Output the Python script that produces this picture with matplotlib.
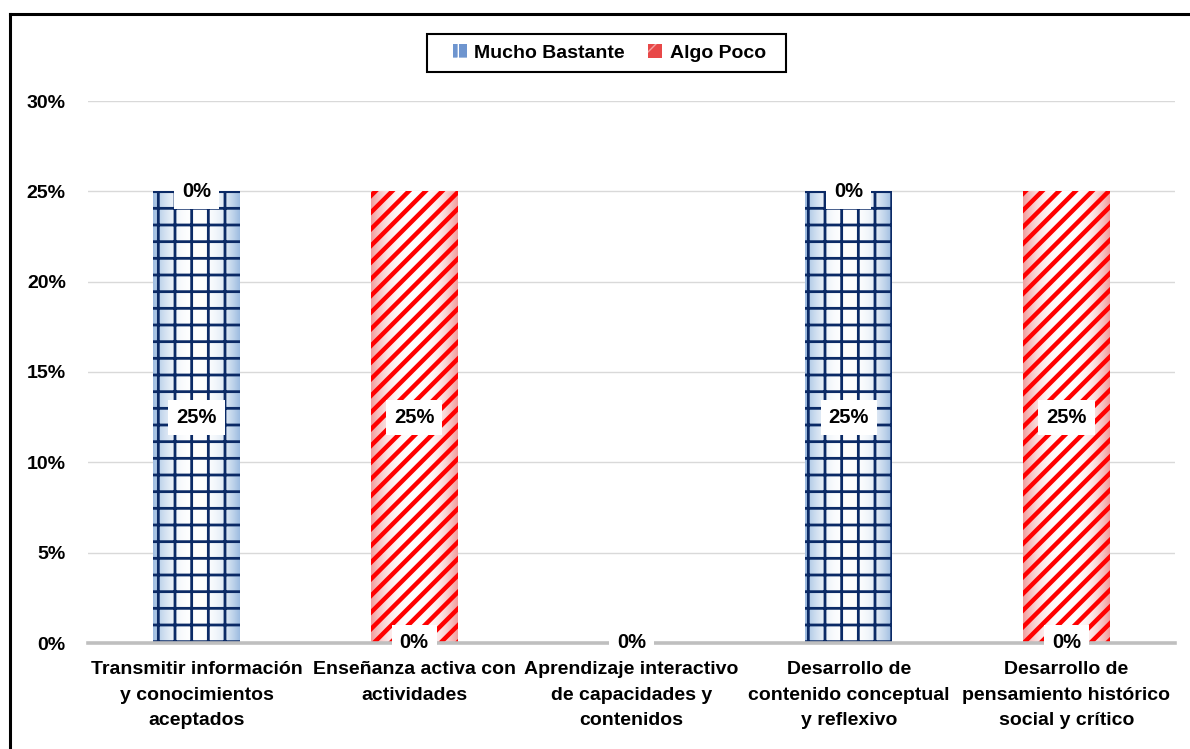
import numpy as np
import matplotlib
matplotlib.use('Agg')
import matplotlib.pyplot as plt
from matplotlib.patches import Rectangle
from matplotlib.lines import Line2D

plt.rcParams['font.family'] = ['Liberation Sans', 'DejaVu Sans']
plt.rcParams['font.weight'] = 'bold'

categories = ['Transmitir información\ny conocimientos\naceptados',
              'Enseñanza activa con\nactividades',
              'Aprendizaje interactivo\nde capacidades y\ncontenidos',
              'Desarrollo de\ncontenido conceptual\ny reflexivo',
              'Desarrollo de\npensamiento histórico\nsocial y crítico']
mucho_bastante = [25, 0, 0, 25, 0]
algo_poco = [0, 25, 0, 0, 25]
yticks = [0, 5, 10, 15, 20, 25, 30]

BLUE_EDGE = np.array([0.62, 0.74, 0.88])
RED_EDGE = np.array([0.95, 0.62, 0.62])
NAVY = '#0B2A66'
RED = '#FF0000'
W = 0.40


def shaded_bar(ax, x, bottom, height, edge_rgb, hatch, hatch_color, hatch_lw):
    if height <= 0:
        return
    t = np.linspace(-1, 1, 80)
    w = np.abs(t) ** 2.5
    img = (1 - w)[None, :, None] * np.ones(3) + w[None, :, None] * edge_rgb
    ax.imshow(img, extent=[x - W / 2, x + W / 2, bottom, bottom + height],
              aspect='auto', interpolation='bilinear', zorder=2)
    with plt.rc_context({'hatch.linewidth': hatch_lw}):
        bars = ax.bar(x, height, W, bottom=bottom, color='none',
                      edgecolor=hatch_color, linewidth=0, hatch=hatch, zorder=3)
    for b in bars:
        if hasattr(b, 'set_hatch_linewidth'):
            b.set_hatch_linewidth(hatch_lw)


fig = plt.figure(figsize=(11.9, 7.49), dpi=100)
ax = fig.add_axes([88 / 1190, 106 / 749, 1087 / 1190, 542 / 749])

x = np.arange(len(categories))
for i in x:
    shaded_bar(ax, i, 0, mucho_bastante[i], BLUE_EDGE, '+', NAVY, 2.0)
    shaded_bar(ax, i, mucho_bastante[i], algo_poco[i], RED_EDGE, '//', RED, 3.2)

box = dict(boxstyle='square,pad=0.4', facecolor='white', edgecolor='none')
for i in x:
    ax.text(i, mucho_bastante[i] / 2, f'{mucho_bastante[i]}%', ha='center',
            va='center', fontsize=14.5, fontweight='bold', bbox=box, zorder=6)
    ax.text(i, mucho_bastante[i] + algo_poco[i] / 2, f'{algo_poco[i]}%',
            ha='center', va='center', fontsize=14.5, fontweight='bold',
            bbox=box, zorder=6)

ax.set_xlim(-0.5, len(categories) - 0.5)
ax.set_ylim(0, 30)
ax.set_yticks(yticks)
ax.set_yticklabels([f'{v}%' for v in yticks], fontsize=14, fontweight='bold')
ax.set_xticks(x)
ax.set_xticklabels(categories, fontsize=14, fontweight='bold', linespacing=1.65)
ax.tick_params(axis='y', length=0, pad=16)
ax.tick_params(axis='x', length=0, pad=13)
ax.yaxis.grid(True, color='#D9D9D9', linewidth=1)
ax.set_axisbelow(True)
ax.axhline(0, color='#BFBFBF', linewidth=2.6, zorder=4, clip_on=False)
for s in ax.spines.values():
    s.set_visible(False)

# legend with its own frame box
lx, ly, lw, lh = 427 / 1190, 1 - 72 / 749, 359 / 1190, 38 / 749
fig.add_artist(Rectangle((lx, ly), lw, lh, transform=fig.transFigure,
                         fill=False, edgecolor='black', linewidth=1.5))
handles = [Rectangle((0, 0), 1, 1, facecolor='#6E95CF', edgecolor='white',
                     linewidth=0, hatch='+'),
           Rectangle((0, 0), 1, 1, facecolor='#E84848', edgecolor='#F4A0A0',
                     linewidth=0, hatch='/')]
fig.legend(handles, ['Mucho Bastante', 'Algo Poco'], ncol=2,
           loc='center', bbox_to_anchor=(lx + lw / 2 + 3 / 1190, ly + lh / 2),
           frameon=False, handlelength=0.7, handleheight=0.7,
           handletextpad=0.4, columnspacing=1.2,
           prop={'size': 14, 'weight': 'bold'})

# outer chart border (left and top edges)
top = 1 - 14 / 749
left = 10 / 1190
fig.add_artist(Line2D([left, left], [0, top], color='black', linewidth=2.2))
fig.add_artist(Line2D([left, 1], [top, top], color='black', linewidth=2.2))

fig.savefig('out.png', dpi=100)
